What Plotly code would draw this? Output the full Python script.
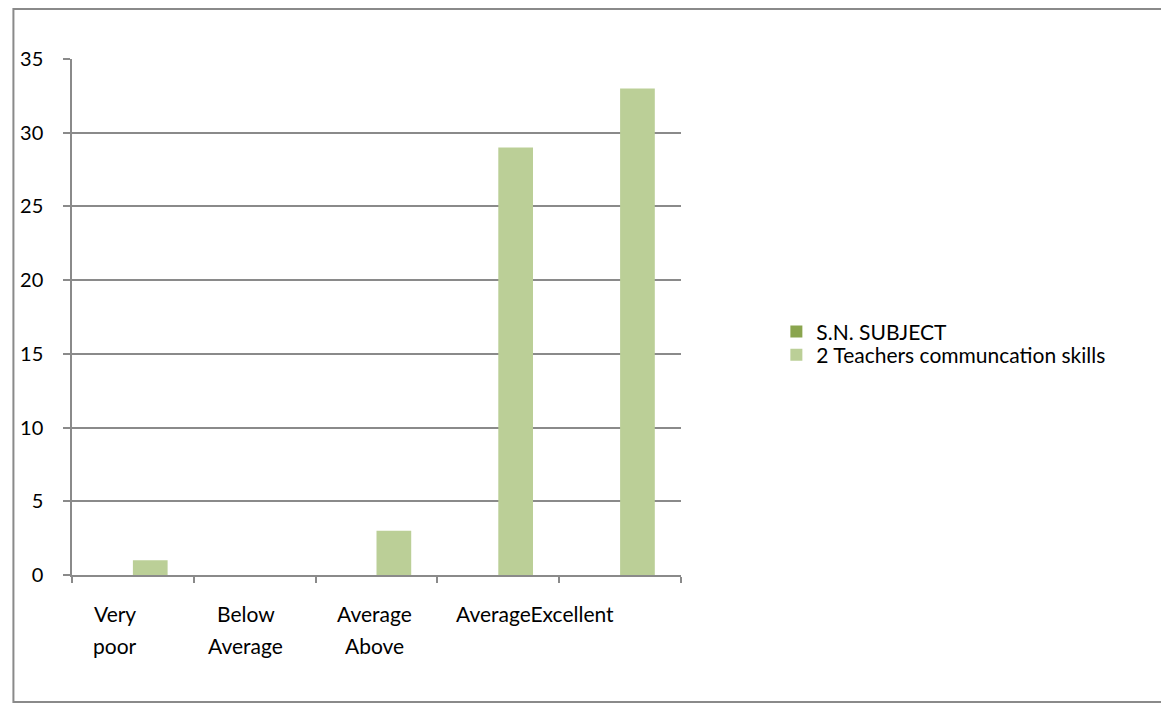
import plotly.graph_objects as go

# categories and series
categories = ["Very poor", "Below Average", "Average", "Above Average", "Excellent"]
sn_subject = [0, 0, 0, 0, 0]
teachers_comm = [1, 0, 3, 29, 33]

# the axis labels as they are drawn in the picture (wrapped oddly)
label_lines = [
    ["Very", "poor"],
    ["Below", "Average"],
    ["Average", "Above"],
    ["AverageExcellent"],
    [],
]
# horizontal nudge (px) of each label block from its category centre
label_nudge = [-18, -9, -2, 37, 0]

FONT = "Lato, 'Liberation Sans', sans-serif"
GRID = "#8a8a8a"

fig = go.Figure()
fig.add_trace(go.Bar(x=categories, y=sn_subject, name="S.N. SUBJECT",
                     marker=dict(color="#8aa54e", line=dict(width=0)),
                     legend="legend"))
fig.add_trace(go.Bar(x=categories, y=teachers_comm, name="2 Teachers communcation skills",
                     marker=dict(color="#bbcf97", line=dict(width=0)),
                     legend="legend2"))

# category labels, one annotation per line
for i, lines in enumerate(label_lines):
    for j, txt in enumerate(lines):
        fig.add_annotation(x=categories[i], y=0, xref="x", yref="paper",
                           text=txt, showarrow=False, xanchor="center", yanchor="middle",
                           xshift=label_nudge[i], yshift=-38 - 32 * j,
                           font=dict(family=FONT, size=21, color="black"))

# outer frame round the whole chart
fig.add_shape(type="rect", xref="paper", yref="paper",
              x0=-0.0962, x1=1.7912, y0=-0.2461, y1=1.0969,
              line=dict(color=GRID, width=2), fillcolor="rgba(0,0,0,0)", layer="below")

# one legend box per series so the row spacing can follow the picture
leg = dict(x=1.1566, xanchor="left", yanchor="middle", font=dict(size=21),
           itemwidth=30, bgcolor="rgba(0,0,0,0)")

# the page body has an 8px margin, so the figure is sized to fit inside the window
fig.update_layout(
    width=1160, height=699,
    margin=dict(l=60, r=487, t=51, b=132),
    paper_bgcolor="white", plot_bgcolor="white",
    barmode="group", bargap=0.43, bargroupgap=0,
    font=dict(family=FONT, size=20, color="black"),
    showlegend=True,
    legend=dict(leg, y=0.471),
    legend2=dict(leg, y=0.4264),
)
fig.update_xaxes(showticklabels=False, tickson="boundaries", ticks="outside",
                 ticklen=6, tickcolor=GRID, tickwidth=1.5,
                 showline=True, linecolor=GRID, linewidth=1.5, showgrid=False)
fig.update_yaxes(range=[0, 35], dtick=5, ticks="outside", ticklen=7,
                 tickcolor=GRID, tickwidth=1.5, showline=True, linecolor=GRID,
                 linewidth=1.5, showgrid=True, gridcolor=GRID, gridwidth=1.5,
                 zeroline=False, ticklabelstandoff=16,
                 tickfont=dict(size=20, color="black"))

fig.write_html("out.html")
